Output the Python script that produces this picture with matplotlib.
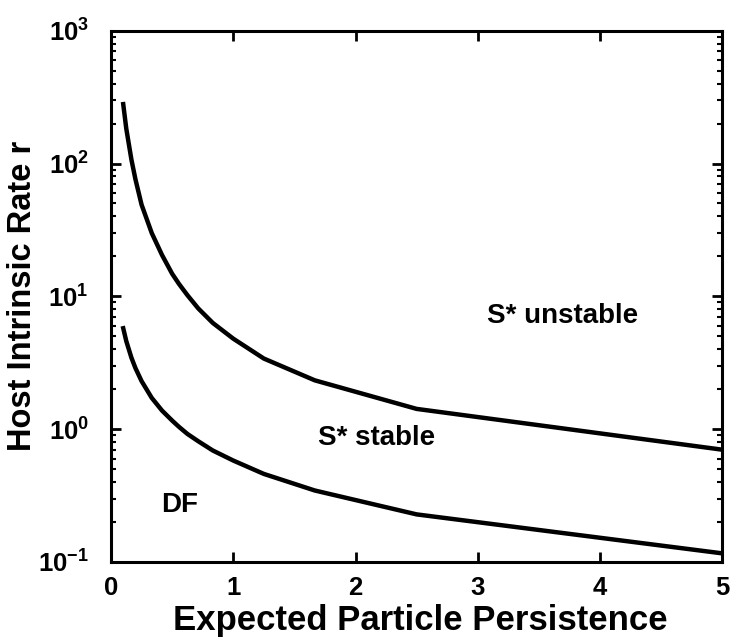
import matplotlib
matplotlib.use("Agg")
import matplotlib.pyplot as plt
from matplotlib.ticker import LogLocator, FixedLocator

plt.rcParams['font.family'] = ['Liberation Sans', 'DejaVu Sans']
plt.rcParams['font.weight'] = 'bold'
plt.rcParams['mathtext.fontset'] = 'custom'
plt.rcParams['mathtext.rm'] = 'Liberation Sans:bold'
plt.rcParams['mathtext.it'] = 'Liberation Sans:bold'
plt.rcParams['mathtext.bf'] = 'Liberation Sans:bold'

# Expected particle persistence
persistence = [5.0, 2.5, 1.667, 1.25, 1.0, 0.833, 0.714, 0.625, 0.556, 0.5,
               0.417, 0.333, 0.25, 0.2, 0.167, 0.125, 0.1]
# Upper boundary (S* stable / unstable)
upper_r = [0.70, 1.42, 2.33, 3.4, 4.8, 6.3, 8.1, 10.2, 12.4, 14.8,
           20.5, 30.0, 49.0, 76.0, 107.0, 183.0, 280.0]
# Lower boundary (DF / S* stable)
lower_r = [0.116, 0.228, 0.345, 0.46, 0.58, 0.69, 0.81, 0.92, 1.04, 1.16,
           1.38, 1.72, 2.3, 2.88, 3.45, 4.6, 5.75]

region_labels = ["S* unstable", "S* stable", "DF"]
region_x = [3.69, 2.17, 0.56]
region_y = [7.1, 0.86, 0.27]

x_ticks = [0, 1, 2, 3, 4, 5]
y_ticks = [0.1, 1, 10, 100, 1000]
y_ticklabels = [r"$10^{-1}$", r"$10^{0}$", r"$10^{1}$", r"$10^{2}$", r"$10^{3}$"]

fig = plt.figure(figsize=(7.5, 6.4), dpi=100)
ax = fig.add_axes([0.148, 0.122, 0.815, 0.830])

ax.plot(persistence, upper_r, color='black', lw=3.2, solid_joinstyle='round')
ax.plot(persistence, lower_r, color='black', lw=3.2, solid_joinstyle='round')

for lab, x, y in zip(region_labels, region_x, region_y):
    ax.text(x, y, lab, fontsize=20, fontweight='bold', ha='center', va='center')

ax.set_yscale('log')
ax.set_xlim(0, 5)
ax.set_ylim(0.1, 1000)
ax.xaxis.set_major_locator(FixedLocator(x_ticks))
ax.set_xticks(x_ticks)
ax.set_xticklabels([str(t) for t in x_ticks])
ax.set_yticks(y_ticks)
ax.set_yticklabels(y_ticklabels)
ax.yaxis.set_minor_locator(LogLocator(base=10, subs=range(2, 10)))
ax.yaxis.set_minor_formatter(plt.NullFormatter())

ax.tick_params(which='both', direction='in', top=True, right=True)
ax.tick_params(which='major', length=7, width=2, labelsize=18.5)
ax.tick_params(axis='x', which='major', pad=10)
ax.tick_params(axis='y', which='major', pad=16)
ax.tick_params(which='minor', length=3.5, width=1.5)
for s in ax.spines.values():
    s.set_linewidth(2.2)

ax.set_xlabel("Expected Particle Persistence", fontsize=25, fontweight='bold',
              labelpad=3)
ax.xaxis.label.set_x(0.506)
ax.set_ylabel("Host Intrinsic Rate r", fontsize=23.5, fontweight='bold', labelpad=0)

fig.savefig("out.png", dpi=100)
